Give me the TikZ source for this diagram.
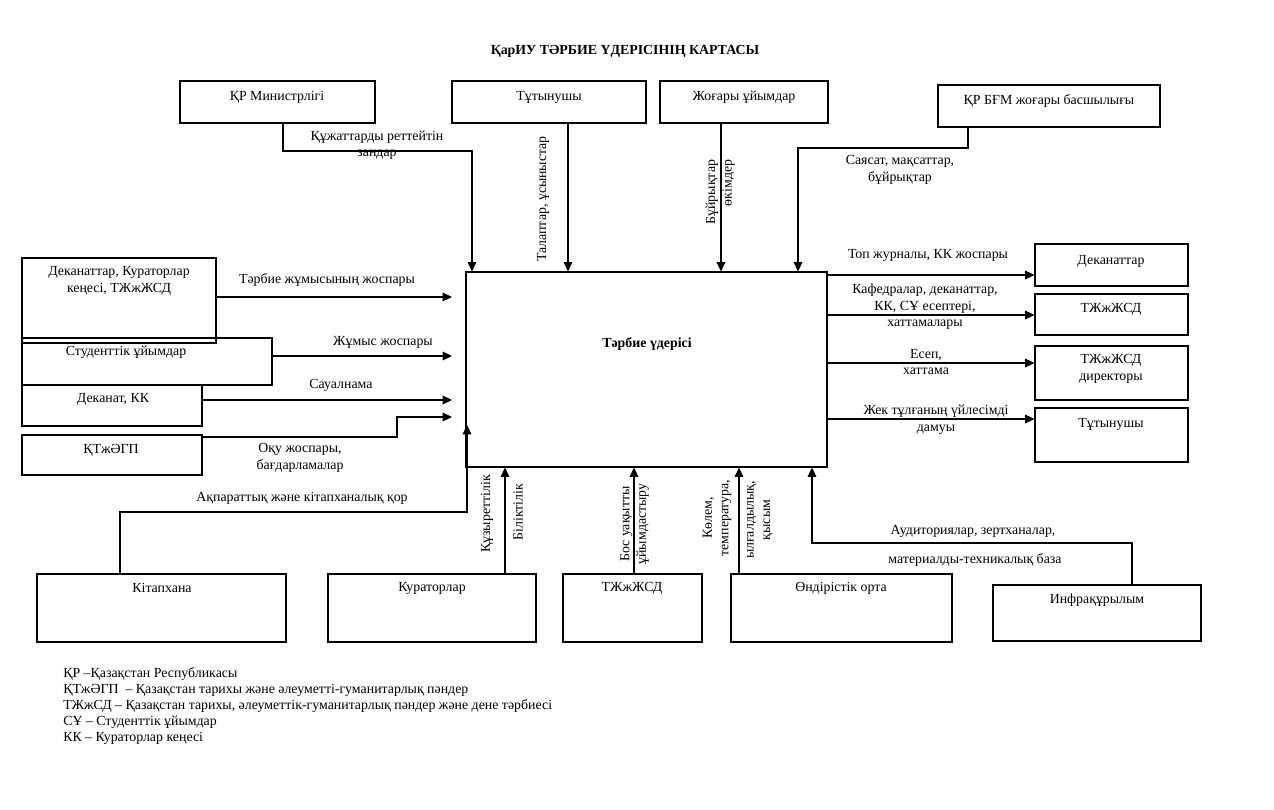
\documentclass[tikz,border=0pt]{standalone}
\usepackage{fontspec}
\setmainfont{Liberation Serif}
\usetikzlibrary{arrows.meta,fit,calc}
\begin{document}
\begin{tikzpicture}[x=0.75pt,y=-0.75pt,
  box/.style={draw,line width=0.8pt,inner sep=0pt},
  conn/.style={line width=0.8pt},
  arr/.style={conn,-{Triangle[length=7pt,width=6.5pt]}},
  txt/.style={font=\fontsize{10.4}{12.4}\selectfont,inner sep=0pt,align=center},
  btxt/.style={font=\fontsize{10.4}{12.4}\selectfont\bfseries,inner sep=0pt,align=center},
  legend/.style={font=\fontsize{10.4}{12}\selectfont,inner sep=0pt,align=left,anchor=north west}
]
\useasboundingbox (0,0) rectangle (1274,810);

% title
\node[btxt] (title) at (625,51) {ҚарИУ ТӘРБИЕ ҮДЕРІСІНІҢ КАРТАСЫ};

% top boxes
\node[box,fit={(180,81) (375,123)}] (min) {};
\node[txt] (minT) at (277,97) {ҚР Министрлігі};
\node[box,fit={(452,81) (646,123)}] (tut) {};
\node[txt] (tutT) at (549,97) {Тұтынушы};
\node[box,fit={(660,81) (828,123)}] (zhog) {};
\node[txt] (zhogT) at (744,97) {Жоғары ұйымдар};
\node[box,fit={(938,85) (1160,127)}] (bgm) {};
\node[txt] (bgmT) at (1049,101) {ҚР БҒМ жоғары басшылығы};

% central process
\node[box,fit={(466,272) (827,467)}] (proc) {};
\node[btxt] (procT) at (647,344) {Тәрбие үдерісі};

% top connectors
\draw[arr] (283,0 |- min.south) -- (283,151) -- (472,151) -- (472,0 |- proc.north);
\node[txt] (lbZan) at (377,145) {Құжаттарды реттейтін\\зандар};
\draw[arr] (568,0 |- tut.south) -- (568,0 |- proc.north);
\node[txt,rotate=90] (lbTal) at (543,199) {Талаптар, ұсыныстар};
\draw[arr] (721,0 |- zhog.south) -- (721,0 |- proc.north);
\node[txt,rotate=90,align=right] (lbBuy) at (720,192) {Бұйрықтар\\өкімдер};
\draw[arr] (968,0 |- bgm.south) -- (968,148) -- (798,148) -- (798,0 |- proc.north);
\node[txt] (lbSay) at (900,170) {Саясат, мақсаттар,\\бұйрықтар};

% left boxes
\node[box,fit={(22,258) (216,343)}] (dek1) {};
\node[txt] (dek1T) at (119,281) {Деканаттар, Кураторлар\\кеңесі, ТЖжЖСД};
\node[box,fit={(22,338) (272,385)}] (stud) {};
\node[txt] (studT) at (126,352) {Студенттік ұйымдар};
\node[box,fit={(22,385) (202,426)}] (dekk) {};
\node[txt] (dekkT) at (113,399) {Деканат, КК};
\node[box,fit={(22,435) (202,475)}] (ktzh) {};
\node[txt] (ktzhT) at (111,450) {ҚТжӘГП};

\coordinate (inA) at (452,297);
\coordinate (inB) at (452,356);
\coordinate (inC) at (452,400);
\coordinate (inD) at (452,417);
\draw[arr] (dek1.east |- inA) -- (inA);
\node[txt] (lbA) at (327,280) {Тәрбие жұмысының жоспары};
\draw[arr] (stud.east |- inB) -- (inB);
\node[txt] (lbB) at (383,342) {Жұмыс жоспары};
\draw[arr] (dekk.east |- inC) -- (inC);
\node[txt] (lbC) at (341,385) {Сауалнама};
\draw[arr] (ktzh.east |- 0,437) -- (397,437) -- (397,417) -- (inD);
\node[txt] (lbD) at (300,458) {Оқу жоспары,\\бағдарламалар};

% right boxes
\node[box,fit={(1035,244) (1188,286)}] (rdek) {};
\node[txt] (rdekT) at (1111,261) {Деканаттар};
\node[box,fit={(1035,294) (1188,335)}] (rtzh) {};
\node[txt] (rtzhT) at (1111,309) {ТЖжЖСД};
\node[box,fit={(1035,346) (1188,400)}] (rdir) {};
\node[txt] (rdirT) at (1111,369) {ТЖжЖСД\\директоры};
\node[box,fit={(1035,408) (1188,462)}] (rtut) {};
\node[txt] (rtutT) at (1111,424) {Тұтынушы};

\draw[arr] (proc.east |- 0,275) -- (rdek.west |- 0,275);
\node[txt] (lbO1) at (928,255) {Топ журналы, КК жоспары};
\draw[arr] (proc.east |- 0,315) -- (rtzh.west |- 0,315);
\node[txt] (lbO2) at (925,307) {Кафедралар, деканаттар,\\КК, СҰ есептері,\\хаттамалары};
\draw[arr] (proc.east |- 0,363) -- (rdir.west |- 0,363);
\node[txt] (lbO3) at (926,362) {Есеп,\\хаттама};
\draw[arr] (proc.east |- 0,419) -- (rtut.west |- 0,419);
\node[txt] (lbO4) at (936,420) {Жек тұлғаның үйлесімді\\дамуы};

% bottom boxes
\node[box,fit={(37,574) (286,642)}] (lib) {};
\node[txt] (libT) at (162,588) {Кітапхана};
\node[box,fit={(328,574) (536,642)}] (cur) {};
\node[txt] (curT) at (432,588) {Кураторлар};
\node[box,fit={(563,574) (702,642)}] (tzh2) {};
\node[txt] (tzh2T) at (632,588) {ТЖжЖСД};
\node[box,fit={(731,574) (952,642)}] (ond) {};
\node[txt] (ondT) at (841,588) {Өндірістік орта};
\node[box,fit={(993,585) (1201,641)}] (infra) {};
\node[txt] (infraT) at (1097,600) {Инфрақұрылым};

\coordinate (inLib) at (467,425);
\draw[arr] (120,0 |- lib.north) -- (120,512) -- (467,512) -- (inLib);
\node[txt] (lbLib) at (302,498) {Ақпараттық және кітапханалық қор};
\draw[arr] (505,0 |- cur.north) -- (505,0 |- proc.south);
\node[txt,rotate=90] (lbK1) at (487,514) {Құзыреттілік};
\node[txt,rotate=90] (lbK2) at (518,512) {Біліктілік};
\draw[arr] (634,0 |- tzh2.north) -- (634,0 |- proc.south);
\node[txt,rotate=90] (lbBos) at (634.5,524) {Бос уақытты\\ұйымдастыру};
\draw[arr] (739,0 |- ond.north) -- (739,0 |- proc.south);
\node[txt,rotate=90] (lbKol) at (717,518) {Көлем,\\температура,};
\node[txt,rotate=90] (lbYl) at (760,520) {ылғалдылық,\\қысым};
\draw[arr] (1132,0 |- infra.north) -- (1132,543) -- (812,543) -- (812,0 |- proc.south);
\node[txt] (lbAud) at (973,531) {Аудиториялар, зертханалар,};
\node[txt] (lbMat) at (975,560) {материалды-техникалық база};

% legend
\node[legend] (leg) at (63,667) {ҚР –Қазақстан Республикасы\\
ҚТжӘГП\ \ – Қазақстан тарихы және әлеуметті-гуманитарлық пәндер\\
ТЖжСД – Қазақстан тарихы, әлеуметтік-гуманитарлық пәндер және дене тәрбиесі\\
СҰ – Студенттік ұйымдар\\
КК – Кураторлар кеңесі};
\end{tikzpicture}
\end{document}
